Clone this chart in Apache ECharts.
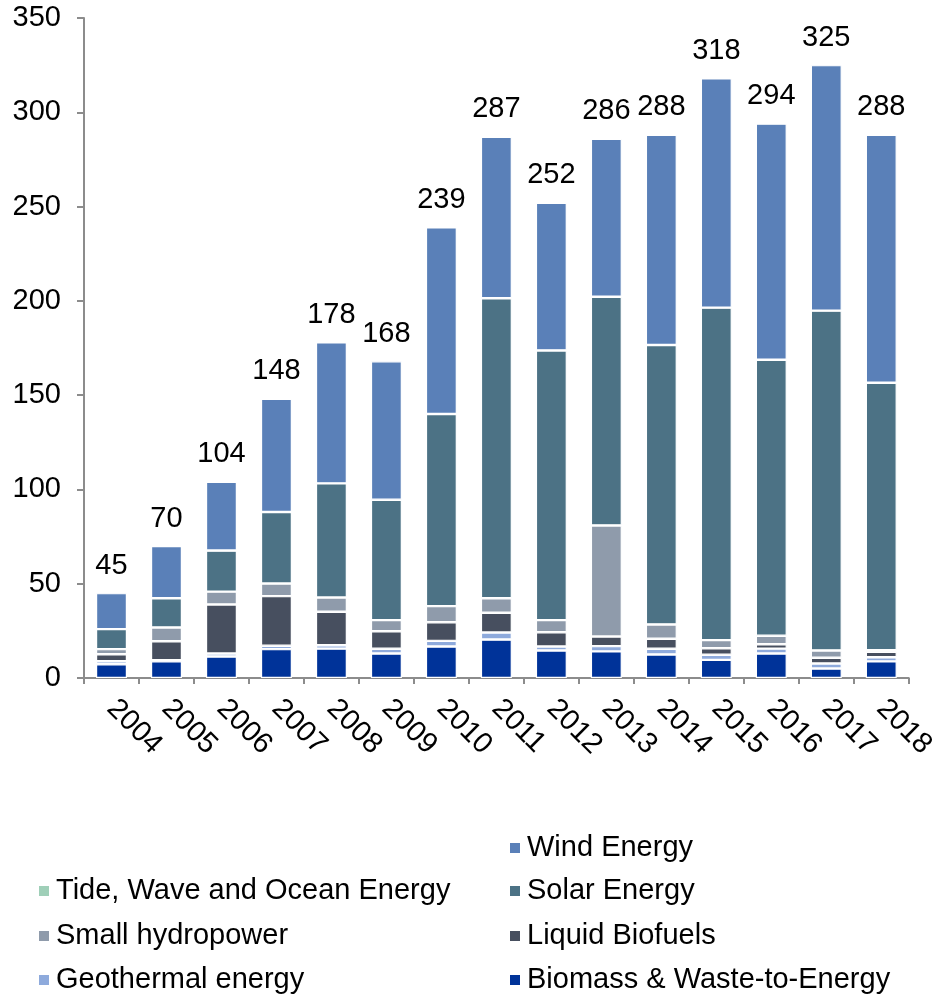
<!DOCTYPE html>
<html>
<head>
<meta charset="utf-8">
<script src="https://cdn.jsdelivr.net/npm/echarts@6/dist/echarts.min.js"></script>
<style>
  html, body { margin: 0; padding: 0; background: #fff; }
  #chart { width: 939px; height: 994px; }
</style>
</head>
<body>
<div id="chart"></div>
<script>
// Annual investment by technology, stacked from the bottom up
const years = ['2004','2005','2006','2007','2008','2009','2010','2011','2012','2013','2014','2015','2016','2017','2018'];
const yTicks = [0, 50, 100, 150, 200, 250, 300, 350];

const biomass    = [7.3, 8.9, 11.4, 15.3, 15.6, 13.0, 16.7, 20.4, 14.6, 14.1, 12.5, 9.6, 13.0, 5.0, 8.8];
const geothermal = [1.6, 0.6, 1.6, 1.8, 1.8, 2.5, 3.0, 3.7, 2.1, 2.8, 3.0, 2.7, 2.6, 2.7, 2.2];
const biofuels   = [3.7, 10.0, 26.0, 26.3, 17.7, 9.3, 9.9, 10.5, 7.6, 5.1, 5.3, 3.5, 2.3, 3.0, 2.9];
const hydro      = [2.7, 7.3, 6.8, 6.7, 7.6, 5.9, 8.5, 7.7, 6.4, 58.9, 7.6, 4.3, 4.5, 3.9, 0.8];
const solar      = [10.6, 15.5, 21.8, 37.9, 60.5, 63.8, 101.9, 159.1, 143.0, 121.3, 148.2, 176.3, 146.4, 180.2, 141.9];
const tide       = [0, 0, 0, 0, 0, 0, 0, 0, 0, 0, 0, 0, 0, 0, 0];
const wind       = [19.1, 27.7, 36.4, 60.0, 74.8, 73.5, 99.0, 85.6, 78.3, 83.8, 111.4, 121.6, 125.2, 130.2, 131.4];
const totals     = [45, 70, 104, 148, 178, 168, 239, 287, 252, 286, 288, 318, 294, 325, 288];

const FONT = '"Liberation Sans", Arial, sans-serif';
const FONT_SIZE = 29;
const AXIS_GRAY = '#8c8c8c';

const seriesDefs = [
  { name: 'Biomass & Waste-to-Energy',     data: biomass,    color: '#003399' },
  { name: 'Geothermal energy',             data: geothermal, color: '#8eaadc' },
  { name: 'Liquid Biofuels',               data: biofuels,   color: '#474f5f' },
  { name: 'Small hydropower',              data: hydro,      color: '#8f9bab' },
  { name: 'Solar Energy',                  data: solar,      color: '#4c7285' },
  { name: 'Tide, Wave and Ocean Energy',   data: tide,       color: '#9fcfb8' },
  { name: 'Wind Energy',                   data: wind,       color: '#5a80b8' }
];

const series = seriesDefs.map(function (s, i) {
  const isTop = i === seriesDefs.length - 1;
  return {
    name: s.name,
    type: 'bar',
    stack: 'total',
    barWidth: 31,
    data: s.data,
    itemStyle: { color: s.color, borderColor: '#ffffff', borderWidth: 1.2 },
    label: isTop ? {
      show: true,
      position: 'top',
      distance: 13,
      color: '#000',
      fontFamily: FONT,
      fontSize: FONT_SIZE,
      formatter: function (p) { return String(totals[p.dataIndex]); }
    } : { show: false }
  };
});

// legend laid out in two columns, one entry per component
function legendItem(name, left, centerY) {
  return {
    data: [name],
    left: left,
    top: centerY - 16,
    padding: 0,
    itemWidth: 12,
    itemHeight: 12,
    icon: 'rect',
    selectedMode: false,
    textStyle: { fontFamily: FONT, fontSize: FONT_SIZE, lineHeight: 32, color: '#000', padding: [0, 0, 0, 1] }
  };
}

const legends = [
  legendItem('Wind Energy', 508, 848),
  legendItem('Tide, Wave and Ocean Energy', 37, 891),
  legendItem('Solar Energy', 508, 891),
  legendItem('Small hydropower', 37, 936),
  legendItem('Liquid Biofuels', 508, 936),
  legendItem('Geothermal energy', 37, 980),
  legendItem('Biomass & Waste-to-Energy', 508, 980)
];

const chart = echarts.init(document.getElementById('chart'), null, { renderer: 'canvas' });
chart.setOption({
  animation: false,
  backgroundColor: '#ffffff',
  legend: legends,
  grid: { left: 84, right: 22, top: 18, bottom: 316, containLabel: false },
  xAxis: {
    type: 'category',
    data: years,
    axisLine: { lineStyle: { color: AXIS_GRAY, width: 2 } },
    axisTick: { show: true, length: 6, lineStyle: { color: AXIS_GRAY, width: 2 } },
    axisLabel: {
      rotate: -45,
      margin: 26,
      color: '#000',
      fontFamily: FONT,
      fontSize: FONT_SIZE
    }
  },
  yAxis: {
    type: 'value',
    min: yTicks[0],
    max: yTicks[yTicks.length - 1],
    interval: 50,
    splitLine: { show: false },
    axisLine: { show: true, lineStyle: { color: AXIS_GRAY, width: 2 } },
    axisTick: { show: true, length: 7, lineStyle: { color: AXIS_GRAY, width: 2 } },
    axisLabel: {
      margin: 23,
      color: '#000',
      fontFamily: FONT,
      fontSize: FONT_SIZE
    }
  },
  series: series
});
</script>
</body>
</html>
